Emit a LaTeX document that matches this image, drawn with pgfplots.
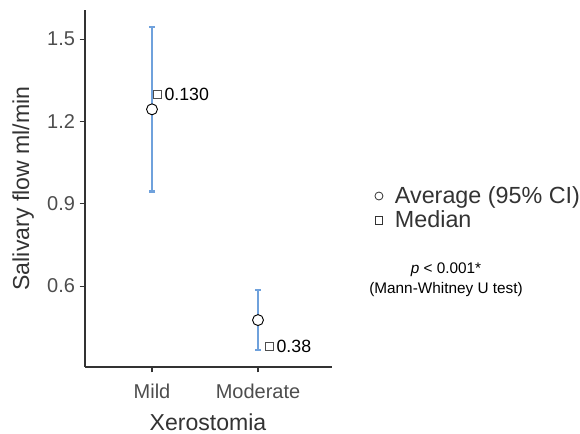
\documentclass[border=0pt]{standalone}
\usepackage{fontspec}
\setmainfont{Liberation Sans}
\usepackage{pgfplots}
\usepackage{pgfplotstable}
\pgfplotsset{compat=1.18}

\definecolor{barblue}{HTML}{6FA1DC}
\definecolor{txtgray}{HTML}{4D4D4D}
\definecolor{axgray}{HTML}{333333}

% mean with 95% CI
\pgfplotstableread{
x mean err
0 1.244 0.300
1 0.476 0.109
}\meantable
% medians (shifted slightly right of category)
\pgfplotstableread{
x med lab
0.047 1.298 0.130
1.104 0.381 0.38
}\medtable

\begin{document}
\begin{tikzpicture}
\begin{axis}[
  at={(63.75pt,50.25pt)}, anchor=south west,
  scale only axis, width=185.25pt, height=267.75pt,
  xmin=-0.632, xmax=1.698, ymin=0.305, ymax=1.606,
  axis x line*=bottom, axis y line*=left,
  axis line style={axgray, line width=0.8pt, -},
  xtick={0,1}, xticklabels={Mild,Moderate},
  ytick={0.6,0.9,1.2,1.5},
  yticklabel style={/pgf/number format/.cd,fixed,fixed zerofill,precision=1},
  /pgf/number format/assume math mode=true,
  tick align=outside, major tick length=4pt,
  tick style={axgray, line width=0.8pt},
  ticklabel style={font=\fontsize{15}{17}\selectfont, text=txtgray},
  xticklabel style={yshift=-5pt},
  xlabel={Xerostomia}, ylabel={Salivary flow ml/min},
  label style={font=\fontsize{17.3}{20}\selectfont, text=axgray},
  xlabel style={at={(axis description cs:0.498,-0.154)}, anchor=center},
  ylabel style={at={(axis description cs:-0.25,0.5)}, anchor=center},
  clip=false,
  legend style={draw=none, fill=none, at={(axis description cs:1.155,0.445)}, anchor=west,
    font=\fontsize{17.5}{17.5}\selectfont, text=axgray, row sep=0pt,
    nodes={inner sep=2pt}, legend cell align=left},
]
\addplot[only marks, mark=*, mark size=4.1pt,
  mark options={draw=black, fill=white, line width=0.7pt},
  legend image code/.code={\draw[axgray, line width=0.6pt, fill=white] (3pt,0) circle (3pt);
    \path[draw=none, fill=none] (0,0) -- (13pt,0);},
  error bars/.cd, y dir=both, y explicit,
  error bar style={color=barblue, line width=2pt},
  error mark options={color=barblue, line width=2pt, mark size=2.3pt, rotate=90},
  ] table[x=x, y=mean, y error=err] {\meantable};
\addlegendentry{Average (95\% CI)}

\addplot[only marks, mark=square*, mark size=3pt,
  mark options={draw=txtgray, fill=white, line width=0.7pt},
  legend image code/.code={\draw[axgray, line width=0.6pt, fill=white] (0.2pt,-2.8pt) rectangle (5.8pt,2.8pt);
    \path[draw=none, fill=none] (0,0) -- (13pt,0);},
  point meta=explicit symbolic,
  nodes near coords, nodes near coords align={anchor=west},
  every node near coord/.append style={font=\fontsize{13.3}{15}\selectfont, text=black, xshift=2pt},
  ] table[x=x, y=med, meta=lab] {\medtable};
\addlegendentry{Median}

\node[font=\fontsize{11.5}{13}\selectfont, text=black] at (axis description cs:1.4615,0.273) {\textit{p} < 0.001*};
\node[font=\fontsize{11.5}{13}\selectfont, text=black] at (axis description cs:1.4615,0.216) {(Mann-Whitney U test)};
\end{axis}
\pgfresetboundingbox
\path (0,0) rectangle (435pt,325.5pt);
\end{tikzpicture}
\end{document}
